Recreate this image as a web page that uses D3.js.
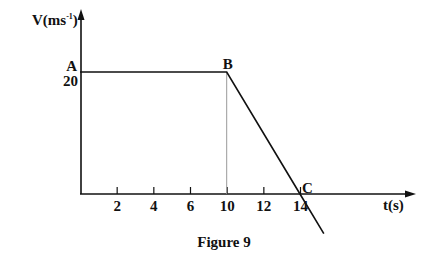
<!DOCTYPE html>
<html>
<head>
<meta charset="utf-8">
<script src="https://cdn.jsdelivr.net/npm/d3@7"></script>
<style>
  body { margin: 0; background: #fff; }
  svg text { font-family: "Liberation Serif", "Times New Roman", serif; font-weight: bold; fill: #111; }
</style>
</head>
<body>
<svg id="fig" width="438" height="269"></svg>
<script>
// velocity-time graph, values
var times = [0, 10, 14, 15.3];
var speeds = [20, 20, 0, -6.5];
var pointLabels = ['A', 'B', 'C'];
var tickValues = [2, 4, 6, 10, 12, 14];
var tickLabels = ['2', '4', '6', '10', '12', '14'];

var svg = d3.select('#fig');

// the printed axis is not evenly spaced (no 8 between 6 and 10)
var x = d3.scaleLinear()
   .domain([0, 6, 10, 14])
   .range([80, 190, 226.7, 300]);

var y = d3.scaleLinear()
   .domain([0, 20])
   .range([194, 72]);

var ink = '#111';

// axes with arrows
svg.append('line')
   .attr('x1', 80).attr('y1', y(0))
   .attr('x2', 410).attr('y2', y(0))
   .attr('stroke', ink).attr('stroke-width', 1.6);
svg.append('path')
   .attr('d', 'M416,' + y(0) + 'L405,' + (y(0) - 3.5) + 'L405,' + (y(0) + 3.5) + 'Z')
   .attr('fill', ink);

svg.append('line')
   .attr('x1', x(0) + 1).attr('y1', y(0))
   .attr('x2', x(0) + 1).attr('y2', 16)
   .attr('stroke', ink).attr('stroke-width', 1.6);
svg.append('path')
   .attr('d', 'M' + (x(0) + 1) + ',9L' + (x(0) - 2.5) + ',20L' + (x(0) + 4.5) + ',20Z')
   .attr('fill', ink);

var axis = d3.axisBottom(x)
   .tickValues(tickValues)
   .tickFormat(function (d, i) { return tickLabels[i]; })
   .tickSizeInner(-7)
   .tickSizeOuter(0)
   .tickPadding(6);

var axisGroup = svg.append('g')
   .attr('transform', 'translate(0,' + y(0) + ')')
   .call(axis);
axisGroup.select('.domain').remove();
axisGroup.selectAll('.tick line').attr('stroke', ink).attr('stroke-width', 1.2);
axisGroup.selectAll('.tick text')
   .attr('font-family', '"Liberation Serif", serif')
   .attr('font-weight', 'bold')
   .attr('font-size', 15)
   .attr('fill', ink);

// thin guide from B down to the time axis
svg.append('line')
   .attr('x1', x(times[1])).attr('y1', y(speeds[1]))
   .attr('x2', x(times[1])).attr('y2', y(0))
   .attr('stroke', '#999').attr('stroke-width', 1);

var line = d3.line()
   .x(function (d, i) { return x(times[i]); })
   .y(function (d, i) { return y(speeds[i]); });

svg.append('path')
   .datum(speeds)
   .attr('d', line)
   .attr('fill', 'none')
   .attr('stroke', ink)
   .attr('stroke-width', 1.6);

// labels
svg.append('text')
   .attr('x', x(0) - 3).attr('y', y(20) - 1)
   .attr('text-anchor', 'end').attr('font-size', 15)
   .text(pointLabels[0]);
svg.append('text')
   .attr('x', x(0) - 2).attr('y', y(20) + 14)
   .attr('text-anchor', 'end').attr('font-size', 15)
   .text('20');
svg.append('text')
   .attr('x', x(times[1]) - 4).attr('y', y(speeds[1]) - 3)
   .attr('font-size', 15)
   .text(pointLabels[1]);
svg.append('text')
   .attr('x', x(times[2]) + 2).attr('y', y(speeds[2]) - 1)
   .attr('font-size', 15)
   .text(pointLabels[2]);

var vLabel = svg.append('text')
   .attr('x', 32).attr('y', 25)
   .attr('font-size', 15);
vLabel.append('tspan').text('V(ms');
vLabel.append('tspan').attr('font-size', 8).attr('dy', -6).text('-1');
vLabel.append('tspan').attr('dy', 6).text(')');

svg.append('text')
   .attr('x', 383).attr('y', 210)
   .attr('font-size', 15)
   .text('t(s)');

svg.append('text')
   .attr('x', 224).attr('y', 247)
   .attr('text-anchor', 'middle')
   .attr('font-size', 15)
   .text('Figure 9');
</script>
</body>
</html>
